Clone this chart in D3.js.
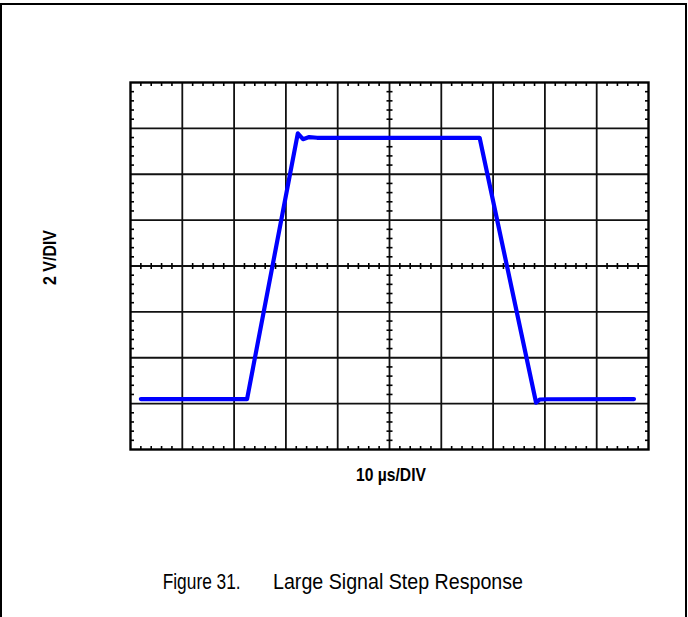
<!DOCTYPE html>
<html>
<head>
<meta charset="utf-8">
<script src="https://cdn.jsdelivr.net/npm/d3@7"></script>
<style>
  html, body { margin: 0; padding: 0; background: #fff; }
  svg { display: block; }
</style>
</head>
<body>
<svg id="chart" width="688" height="617"></svg>
<script>
// ---- data ----
const timeUs   = [2.0, 22.5, 32.3, 33.3, 34.5, 36.0, 67.4, 78.3, 79.0, 80.5, 97.2];
const voltsV   = [-5.80, -5.80, 5.78, 5.53, 5.62, 5.59, 5.59, -5.96, -5.82, -5.81, -5.80];
const xDomain  = [0, 100];   // 10 divisions x 10 µs
const yDomain  = [-8, 8];    // 8 divisions x 2 V
const xMajor   = d3.range(0, 101, 10);
const yMajor   = d3.range(-8, 8.01, 2);
const xMinor   = d3.range(0, 100.01, 2);
const yMinor   = d3.range(-8, 8.01, 0.4);
const xLabel   = "10 µs/DIV";
const yLabel   = "2 V/DIV";
const caption1 = "Figure 31.";
const caption2 = "Large Signal Step Response";

const svg = d3.select("#chart");
const W = 688, H = 617;
const plot = { left: 130.5, right: 648.5, top: 82.5, bottom: 449.5 };

const x = d3.scaleLinear().domain(xDomain).range([plot.left, plot.right]);
const y = d3.scaleLinear().domain(yDomain).range([plot.bottom, plot.top]);

// outer frame (open at bottom)
svg.append("path")
  .attr("d", `M1,${H} L1,4 L${W - 2},4 L${W - 2},${H}`)
  .attr("fill", "none").attr("stroke", "#000").attr("stroke-width", 2);

const g = svg.append("g");

// grid
g.selectAll("line.vx").data(xMajor.slice(1, -1)).join("line")
  .attr("x1", d => x(d)).attr("x2", d => x(d))
  .attr("y1", plot.top).attr("y2", plot.bottom)
  .attr("stroke", "#111").attr("stroke-width", 1.8);
g.selectAll("line.hy").data(yMajor.slice(1, -1)).join("line")
  .attr("x1", plot.left).attr("x2", plot.right)
  .attr("y1", d => y(d)).attr("y2", d => y(d))
  .attr("stroke", "#111").attr("stroke-width", 1.8);

// minor ticks on edges (inward) and on centre axes
const tl = 3.5, tc = 3;
const xm = xMinor.filter(d => d % 10 !== 0);
const ym = yMinor.filter(d => Math.abs(Math.round(d / 2) * 2 - d) > 1e-6);
const ticks = [];
xm.forEach(d => {
  ticks.push([x(d), plot.top, x(d), plot.top + tl]);
  ticks.push([x(d), plot.bottom, x(d), plot.bottom - tl]);
  ticks.push([x(d), y(0) - tc, x(d), y(0) + tc]);
});
ym.forEach(d => {
  ticks.push([plot.left, y(d), plot.left + tl, y(d)]);
  ticks.push([plot.right, y(d), plot.right - tl, y(d)]);
  ticks.push([x(50) - tc, y(d), x(50) + tc, y(d)]);
});
g.selectAll("line.tk").data(ticks).join("line")
  .attr("x1", d => d[0]).attr("y1", d => d[1])
  .attr("x2", d => d[2]).attr("y2", d => d[3])
  .attr("stroke", "#000").attr("stroke-width", 1.6);

// plot border
g.append("rect")
  .attr("x", plot.left).attr("y", plot.top)
  .attr("width", plot.right - plot.left).attr("height", plot.bottom - plot.top)
  .attr("fill", "none").attr("stroke", "#000").attr("stroke-width", 2.4);

// trace
const pts = timeUs.map((t, i) => [t, voltsV[i]]);
const line = d3.line().x(d => x(d[0])).y(d => y(d[1]));
g.append("path").datum(pts)
  .attr("d", line)
  .attr("fill", "none").attr("stroke", "#0000ff")
  .attr("stroke-width", 4.2).attr("stroke-linejoin", "round").attr("stroke-linecap", "round");

const narrow = "'Liberation Sans Narrow', 'Arial Narrow', 'Liberation Sans', Arial, sans-serif";

// axis labels
svg.append("text")
  .attr("x", 391).attr("y", 481)
  .attr("text-anchor", "middle")
  .attr("font-family", narrow).attr("font-weight", "bold").attr("font-size", 19)
  .attr("textLength", 70).attr("lengthAdjust", "spacingAndGlyphs")
  .text(xLabel);

svg.append("text")
  .attr("transform", "translate(56,257.5) rotate(-90)")
  .attr("text-anchor", "middle")
  .attr("font-family", narrow).attr("font-weight", "bold").attr("font-size", 19)
  .attr("textLength", 55).attr("lengthAdjust", "spacingAndGlyphs")
  .text(yLabel);

// caption
svg.append("text")
  .attr("x", 162.7).attr("y", 589)
  .attr("font-family", narrow).attr("font-size", 22)
  .attr("textLength", 78).attr("lengthAdjust", "spacingAndGlyphs")
  .text(caption1);
svg.append("text")
  .attr("x", 273).attr("y", 589)
  .attr("font-family", narrow).attr("font-size", 22)
  .attr("textLength", 250).attr("lengthAdjust", "spacingAndGlyphs")
  .text(caption2);
</script>
</body>
</html>
